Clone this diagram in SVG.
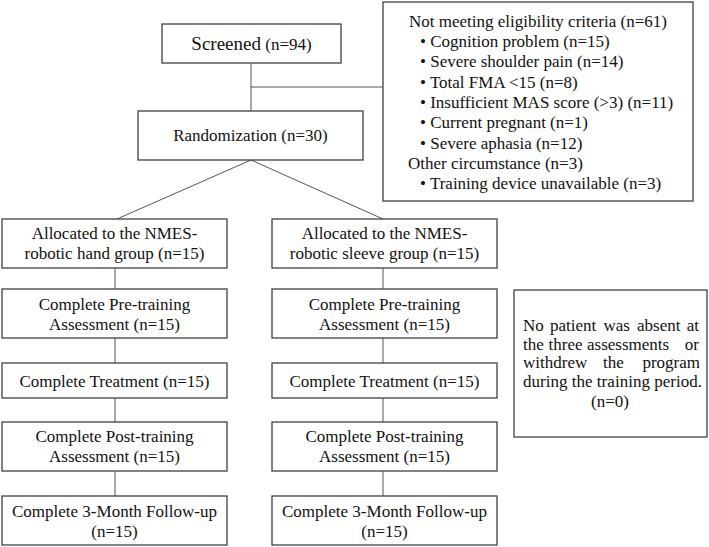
<svg xmlns="http://www.w3.org/2000/svg" width="709" height="547" viewBox="0 0 709 547">
<style>
rect{fill:#fff;stroke:#404040;stroke-width:1.3}
text{font-family:'Liberation Serif',Tinos,'Times New Roman','Noto Serif','DejaVu Serif',serif;font-size:17px;fill:#111}
.c{text-anchor:middle}
.e{text-anchor:end}
.ln{stroke:#555;stroke-width:1;fill:none}
</style>
<rect x="0" y="0" width="709" height="547" style="stroke:none"/>
<g id="connectors">
<line class="ln" x1="251" y1="63" x2="251" y2="111"/>
<line class="ln" x1="251" y1="87" x2="383" y2="87"/>
<line class="ln" x1="251" y1="160" x2="117" y2="219"/>
<line class="ln" x1="251" y1="160" x2="383" y2="219"/>
<line class="ln" x1="115" y1="268" x2="115" y2="289"/>
<line class="ln" x1="115" y1="338" x2="115" y2="363"/>
<line class="ln" x1="115" y1="398" x2="115" y2="422"/>
<line class="ln" x1="115" y1="471" x2="115" y2="496"/>
<line class="ln" x1="383" y1="268" x2="383" y2="289"/>
<line class="ln" x1="383" y1="338" x2="383" y2="363"/>
<line class="ln" x1="383" y1="398" x2="383" y2="422"/>
<line class="ln" x1="383" y1="471" x2="383" y2="496"/>
</g>
<g id="screened">
<rect x="162" y="24" width="179" height="39"/>
<text class="c" x="251.5" y="50"><tspan style="font-size:19px">Screened</tspan> (n=94)</text>
</g>
<g id="randomization">
<rect x="138" y="111" width="225" height="49"/>
<text class="c" x="250.5" y="141">Randomization (n=30)</text>
</g>
<g id="excluded">
<rect x="383" y="2" width="310" height="199"/>
<text x="409" y="26.7">Not meeting eligibility criteria (n=61)</text>
<text x="420" y="47">• Cognition problem (n=15)</text>
<text x="420" y="67.3">• Severe shoulder pain (n=14)</text>
<text x="420" y="87.6">• Total FMA &lt;15 (n=8)</text>
<text x="420" y="107.9">• Insufficient MAS score (&gt;3) (n=11)</text>
<text x="420" y="128.2">• Current pregnant (n=1)</text>
<text x="420" y="148.5">• Severe aphasia (n=12)</text>
<text x="408" y="168.8">Other circumstance (n=3)</text>
<text x="420" y="189.1">• Training device unavailable (n=3)</text>
</g>
<g id="alloc-hand">
<rect x="2" y="219" width="225" height="49"/>
<text class="c" x="114.5" y="238.5">Allocated to the NMES-</text>
<text class="c" x="114.5" y="259">robotic hand group (n=15)</text>
</g>
<g id="alloc-sleeve">
<rect x="272" y="219" width="225" height="49"/>
<text class="c" x="384.5" y="238.5">Allocated to the NMES-</text>
<text class="c" x="384.5" y="259">robotic sleeve group (n=15)</text>
</g>
<g id="pre-hand">
<rect x="2" y="289" width="225" height="49"/>
<text class="c" x="114.5" y="310">Complete Pre-training</text>
<text class="c" x="114.5" y="330">Assessment (n=15)</text>
</g>
<g id="pre-sleeve">
<rect x="272" y="289" width="225" height="49"/>
<text class="c" x="384.5" y="310">Complete Pre-training</text>
<text class="c" x="384.5" y="330">Assessment (n=15)</text>
</g>
<g id="treat-hand">
<rect x="2" y="363" width="225" height="35"/>
<text class="c" x="114.5" y="386.5">Complete Treatment (n=15)</text>
</g>
<g id="treat-sleeve">
<rect x="272" y="363" width="225" height="35"/>
<text class="c" x="384.5" y="386.5">Complete Treatment (n=15)</text>
</g>
<g id="post-hand">
<rect x="2" y="422" width="225" height="49"/>
<text class="c" x="114.5" y="442">Complete Post-training</text>
<text class="c" x="114.5" y="462">Assessment (n=15)</text>
</g>
<g id="post-sleeve">
<rect x="272" y="422" width="225" height="49"/>
<text class="c" x="384.5" y="442">Complete Post-training</text>
<text class="c" x="384.5" y="462">Assessment (n=15)</text>
</g>
<g id="follow-hand">
<rect x="2" y="496" width="225" height="49"/>
<text class="c" x="114.5" y="517">Complete 3-Month Follow-up</text>
<text class="c" x="114.5" y="537">(n=15)</text>
</g>
<g id="follow-sleeve">
<rect x="272" y="496" width="225" height="49"/>
<text class="c" x="384.5" y="517">Complete 3-Month Follow-up</text>
<text class="c" x="384.5" y="537">(n=15)</text>
</g>
<g id="note">
<rect x="514" y="290" width="193" height="147"/>
<text x="523" y="331">No</text>
<text x="550" y="331">patient</text>
<text x="603.5" y="331">was</text>
<text x="637" y="331">absent</text>
<text class="e" x="699" y="331">at</text>
<text x="523" y="349.5">the</text>
<text x="548.5" y="349.5">three</text>
<text x="587" y="349.5">assessments</text>
<text class="e" x="699" y="349.5">or</text>
<text x="523" y="368">withdrew</text>
<text x="603" y="368">the</text>
<text class="e" x="700" y="368">program</text>
<text x="523" y="386.5" textLength="179" lengthAdjust="spacing">during the training period.</text>
<text class="c" x="610" y="406.5">(n=0)</text>
</g>
</svg>
